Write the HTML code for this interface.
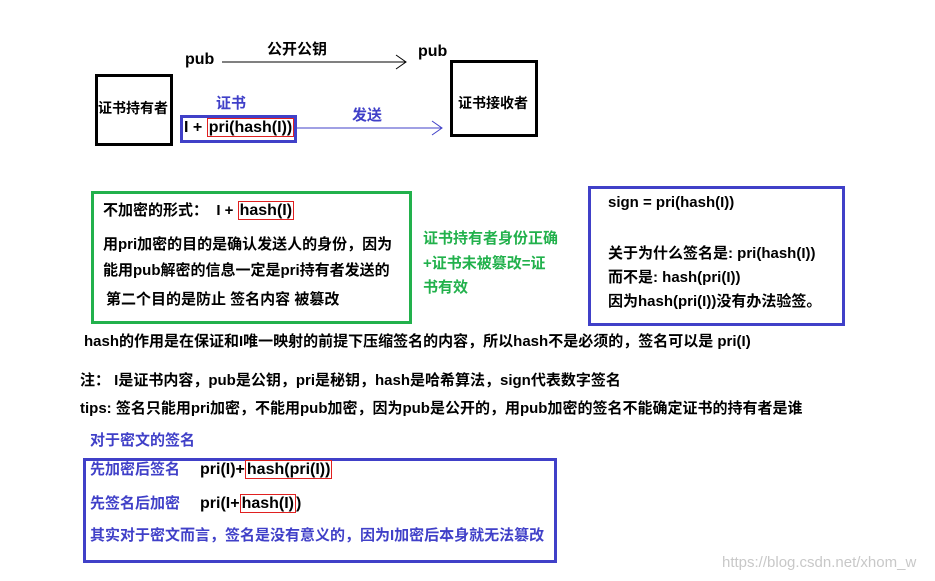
<!DOCTYPE html>
<html><head><meta charset="utf-8"><style>
body{margin:0;width:935px;height:581px;background:#fff;position:relative;overflow:hidden;font-family:"Liberation Sans","Noto Sans CJK SC",sans-serif;font-weight:bold;font-size:15px;color:#000}
.t{position:absolute;line-height:18px;white-space:nowrap}
.b{position:absolute;box-sizing:border-box}
.bl{color:#4040c8}.gr{color:#22b14c}
.r{border:1px solid #e02020;padding:0 1px}
</style></head><body>
<div class="b" style="left:95px;top:74px;width:78px;height:72px;border:3px solid #000"></div>
<div class="t" style="left:98px;top:99px;font-size:14px">证书持有者</div>
<div class="b" style="left:450px;top:60px;width:88px;height:77px;border:3px solid #000"></div>
<div class="t" style="left:458px;top:94px;font-size:14px">证书接收者</div>
<div class="t" style="left:185px;top:51px;font-size:16px">pub</div>
<div class="t" style="left:267px;top:41px">公开公钥</div>
<div class="t" style="left:418px;top:43px;font-size:16px">pub</div>
<div class="t bl" style="left:216px;top:95px">证书</div>
<div class="t bl" style="left:352px;top:107px">发送</div>
<svg class="b" style="left:0;top:0" width="935" height="581">
<line x1="222" y1="62" x2="406" y2="62" stroke="#000" stroke-width="1"/>
<polyline points="396,55 406,62 396,69" fill="none" stroke="#000"/>
<line x1="297" y1="128" x2="442" y2="128" stroke="#4040c8" stroke-width="1"/>
<polyline points="432,121 442,128 432,135" fill="none" stroke="#4040c8"/>
</svg>
<div class="b" style="left:180px;top:115px;width:117px;height:28px;border:3px solid #4040c8"></div>
<div class="t" style="left:184px;top:119px;font-size:16px">I + <span class="r">pri(hash(I))</span></div>

<div class="b" style="left:91px;top:191px;width:321px;height:133px;border:3px solid #22b14c"></div>
<div class="t" style="left:103px;top:202px">不加密的形式：&nbsp; I + <span class="r" style="font-size:16px">hash(I)</span></div>
<div class="t" style="left:103px;top:236px">用pri加密的目的是确认发送人的身份，因为</div>
<div class="t" style="left:103px;top:262px">能用pub解密的信息一定是pri持有者发送的</div>
<div class="t" style="left:106px;top:291px">第二个目的是防止 签名内容 被篡改</div>
<div class="t gr" style="left:423px;top:230px">证书持有者身份正确</div>
<div class="t gr" style="left:423px;top:255px">+证书未被篡改=证</div>
<div class="t gr" style="left:423px;top:279px">书有效</div>

<div class="b" style="left:588px;top:186px;width:257px;height:140px;border:3px solid #4040c8"></div>
<div class="t" style="left:608px;top:194px">sign = pri(hash(I))</div>
<div class="t" style="left:608px;top:245px">关于为什么签名是: pri(hash(I))</div>
<div class="t" style="left:608px;top:269px">而不是: hash(pri(I))</div>
<div class="t" style="left:608px;top:293px">因为hash(pri(I))没有办法验签。</div>

<div class="t" style="left:84px;top:333px">hash的作用是在保证和I唯一映射的前提下压缩签名的内容，所以hash不是必须的，签名可以是 pri(I)</div>
<div class="t" style="left:80px;top:372px">注： I是证书内容，pub是公钥，pri是秘钥，hash是哈希算法，sign代表数字签名</div>
<div class="t" style="left:80px;top:400px">tips: 签名只能用pri加密，不能用pub加密，因为pub是公开的，用pub加密的签名不能确定证书的持有者是谁</div>
<div class="t bl" style="left:90px;top:432px">对于密文的签名</div>
<div class="b" style="left:83px;top:458px;width:474px;height:105px;border:3px solid #4040c8"></div>
<div class="t bl" style="left:90px;top:461px">先加密后签名</div>
<div class="t" style="left:200px;top:461px;font-size:16px">pri(I)+<span class="r">hash(pri(I))</span></div>
<div class="t bl" style="left:90px;top:495px">先签名后加密</div>
<div class="t" style="left:200px;top:495px;font-size:16px">pri(I+<span class="r">hash(I)</span>)</div>
<div class="t bl" style="left:90px;top:527px">其实对于密文而言，签名是没有意义的，因为I加密后本身就无法篡改</div>
<div class="t" style="left:722px;top:554px;font-weight:normal;color:#c8c8c8;font-size:15px">https://blog.csdn.net/xhom_w</div>
</body></html>
